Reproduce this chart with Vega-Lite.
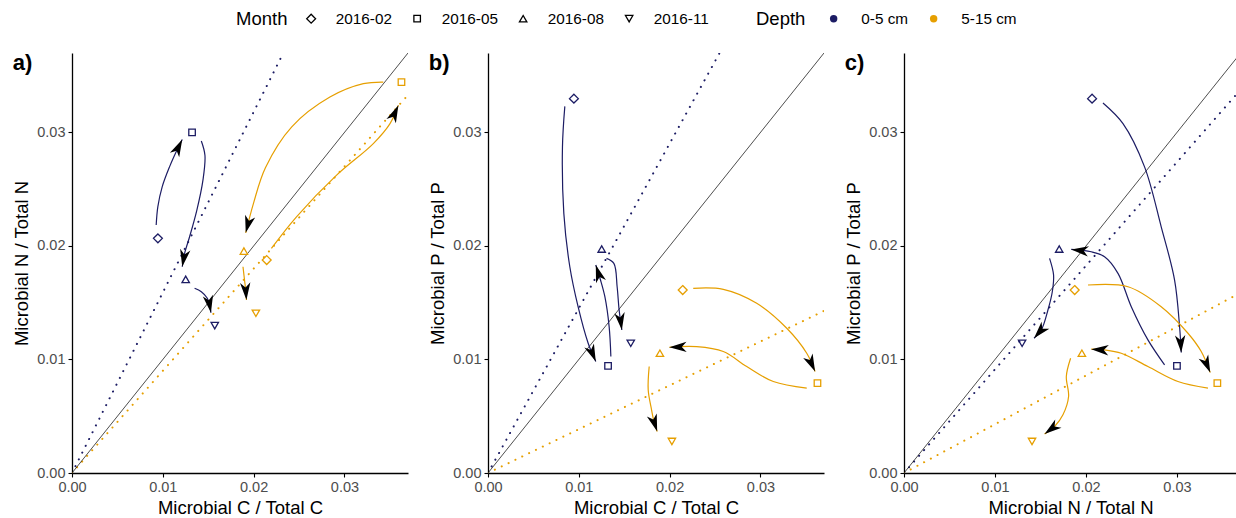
{
  "$schema": "https://vega.github.io/schema/vega-lite/v6.json",
  "padding": {"left": 12, "top": 11, "right": 0, "bottom": 2},
  "spacing": 20,
  "datasets": {
    "pts": [
      {"d": "0-5 cm", "m": "2016-02", "C": 0.00946, "N": 0.02067, "P": 0.03298},
      {"d": "0-5 cm", "m": "2016-05", "C": 0.01322, "N": 0.0300, "P": 0.00944},
      {"d": "0-5 cm", "m": "2016-08", "C": 0.01252, "N": 0.01706, "P": 0.01973},
      {"d": "0-5 cm", "m": "2016-11", "C": 0.01572, "N": 0.01298, "P": 0.01143},
      {"d": "5-15 cm", "m": "2016-02", "C": 0.02144, "N": 0.01876, "P": 0.01612},
      {"d": "5-15 cm", "m": "2016-05", "C": 0.03628, "N": 0.03444, "P": 0.00792},
      {"d": "5-15 cm", "m": "2016-08", "C": 0.01893, "N": 0.01955, "P": 0.01055},
      {"d": "5-15 cm", "m": "2016-11", "C": 0.02025, "N": 0.01407, "P": 0.00278}
    ],
    "refs": [
      {"p": "a", "d": "0-5 cm", "x0": 0, "y0": 0, "xe": 0.02327, "ye": 0.037},
      {"p": "a", "d": "5-15 cm", "x0": 0, "y0": 0, "xe": 0.037, "ye": 0.0333},
      {"p": "a", "d": "1:1", "x0": 0, "y0": 0, "xe": 0.037, "ye": 0.037},
      {"p": "b", "d": "0-5 cm", "x0": 0, "y0": 0, "xe": 0.0255, "ye": 0.037},
      {"p": "b", "d": "5-15 cm", "x0": 0, "y0": 0, "xe": 0.037, "ye": 0.01428},
      {"p": "b", "d": "1:1", "x0": 0, "y0": 0, "xe": 0.037, "ye": 0.037},
      {"p": "c", "d": "0-5 cm", "x0": 0, "y0": 0, "xe": 0.037, "ye": 0.03378},
      {"p": "c", "d": "5-15 cm", "x0": 0, "y0": 0, "xe": 0.037, "ye": 0.01589},
      {"p": "c", "d": "1:1", "x0": 0, "y0": 0, "xe": 0.037, "ye": 0.037}
    ],
    "arrows": [
      {"p": "a", "d": "0-5 cm", "id": "a1", "o": 1, "x": 0.00927, "y": 0.02184},
      {"p": "a", "d": "0-5 cm", "id": "a1", "o": 2, "x": 0.00945, "y": 0.02345},
      {"p": "a", "d": "0-5 cm", "id": "a1", "o": 3, "x": 0.00993, "y": 0.02521},
      {"p": "a", "d": "0-5 cm", "id": "a1", "o": 4, "x": 0.01074, "y": 0.02697},
      {"p": "a", "d": "0-5 cm", "id": "a1", "o": 5, "x": 0.01155, "y": 0.02843},
      {"p": "a", "d": "0-5 cm", "id": "a1", "o": 6, "x": 0.01214, "y": 0.02938},
      {"p": "a", "d": "0-5 cm", "id": "a2", "o": 1, "x": 0.01424, "y": 0.02925},
      {"p": "a", "d": "0-5 cm", "id": "a2", "o": 2, "x": 0.01464, "y": 0.02799},
      {"p": "a", "d": "0-5 cm", "id": "a2", "o": 3, "x": 0.01442, "y": 0.0258},
      {"p": "a", "d": "0-5 cm", "id": "a2", "o": 4, "x": 0.01375, "y": 0.02316},
      {"p": "a", "d": "0-5 cm", "id": "a2", "o": 5, "x": 0.01295, "y": 0.02081},
      {"p": "a", "d": "0-5 cm", "id": "a2", "o": 6, "x": 0.0124, "y": 0.01935},
      {"p": "a", "d": "0-5 cm", "id": "a2", "o": 7, "x": 0.01214, "y": 0.01817},
      {"p": "a", "d": "0-5 cm", "id": "a3", "o": 1, "x": 0.0135, "y": 0.01627},
      {"p": "a", "d": "0-5 cm", "id": "a3", "o": 2, "x": 0.01424, "y": 0.01597},
      {"p": "a", "d": "0-5 cm", "id": "a3", "o": 3, "x": 0.0149, "y": 0.01539},
      {"p": "a", "d": "0-5 cm", "id": "a3", "o": 4, "x": 0.01515, "y": 0.0148},
      {"p": "a", "d": "0-5 cm", "id": "a3", "o": 5, "x": 0.0153, "y": 0.01412},
      {"p": "a", "d": "5-15 cm", "id": "a4", "o": 1, "x": 0.02196, "y": 0.01979},
      {"p": "a", "d": "5-15 cm", "id": "a4", "o": 2, "x": 0.02472, "y": 0.02257},
      {"p": "a", "d": "5-15 cm", "id": "a4", "o": 3, "x": 0.02914, "y": 0.02624},
      {"p": "a", "d": "5-15 cm", "id": "a4", "o": 4, "x": 0.03318, "y": 0.02902},
      {"p": "a", "d": "5-15 cm", "id": "a4", "o": 5, "x": 0.03502, "y": 0.03078},
      {"p": "a", "d": "5-15 cm", "id": "a4", "o": 6, "x": 0.03594, "y": 0.03239},
      {"p": "a", "d": "5-15 cm", "id": "a5", "o": 1, "x": 0.03428, "y": 0.03444},
      {"p": "a", "d": "5-15 cm", "id": "a5", "o": 2, "x": 0.03208, "y": 0.0343},
      {"p": "a", "d": "5-15 cm", "id": "a5", "o": 3, "x": 0.0284, "y": 0.03312},
      {"p": "a", "d": "5-15 cm", "id": "a5", "o": 4, "x": 0.0242, "y": 0.0305},
      {"p": "a", "d": "5-15 cm", "id": "a5", "o": 5, "x": 0.0213, "y": 0.0269},
      {"p": "a", "d": "5-15 cm", "id": "a5", "o": 6, "x": 0.02, "y": 0.0238},
      {"p": "a", "d": "5-15 cm", "id": "a5", "o": 7, "x": 0.01913, "y": 0.02116},
      {"p": "a", "d": "5-15 cm", "id": "a6", "o": 1, "x": 0.01883, "y": 0.01817},
      {"p": "a", "d": "5-15 cm", "id": "a6", "o": 2, "x": 0.01902, "y": 0.01685},
      {"p": "a", "d": "5-15 cm", "id": "a6", "o": 3, "x": 0.01913, "y": 0.01612},
      {"p": "a", "d": "5-15 cm", "id": "a6", "o": 4, "x": 0.01921, "y": 0.01524},
      {"p": "b", "d": "0-5 cm", "id": "b1", "o": 1, "x": 0.00846, "y": 0.0323},
      {"p": "b", "d": "0-5 cm", "id": "b1", "o": 2, "x": 0.0082, "y": 0.02873},
      {"p": "b", "d": "0-5 cm", "id": "b1", "o": 3, "x": 0.00835, "y": 0.02287},
      {"p": "b", "d": "0-5 cm", "id": "b1", "o": 4, "x": 0.00901, "y": 0.01817},
      {"p": "b", "d": "0-5 cm", "id": "b1", "o": 5, "x": 0.00992, "y": 0.01465},
      {"p": "b", "d": "0-5 cm", "id": "b1", "o": 6, "x": 0.01103, "y": 0.01143},
      {"p": "b", "d": "0-5 cm", "id": "b1", "o": 7, "x": 0.01187, "y": 0.00982},
      {"p": "b", "d": "0-5 cm", "id": "b2", "o": 1, "x": 0.01353, "y": 0.01026},
      {"p": "b", "d": "0-5 cm", "id": "b2", "o": 2, "x": 0.01334, "y": 0.01289},
      {"p": "b", "d": "0-5 cm", "id": "b2", "o": 3, "x": 0.01287, "y": 0.01553},
      {"p": "b", "d": "0-5 cm", "id": "b2", "o": 4, "x": 0.01239, "y": 0.017},
      {"p": "b", "d": "0-5 cm", "id": "b2", "o": 5, "x": 0.01187, "y": 0.01832},
      {"p": "b", "d": "0-5 cm", "id": "b3", "o": 1, "x": 0.01305, "y": 0.01891},
      {"p": "b", "d": "0-5 cm", "id": "b3", "o": 2, "x": 0.01386, "y": 0.01847},
      {"p": "b", "d": "0-5 cm", "id": "b3", "o": 3, "x": 0.01422, "y": 0.01641},
      {"p": "b", "d": "0-5 cm", "id": "b3", "o": 4, "x": 0.01444, "y": 0.01436},
      {"p": "b", "d": "0-5 cm", "id": "b3", "o": 5, "x": 0.01474, "y": 0.0126},
      {"p": "b", "d": "5-15 cm", "id": "b4", "o": 1, "x": 0.0226, "y": 0.01627},
      {"p": "b", "d": "5-15 cm", "id": "b4", "o": 2, "x": 0.02591, "y": 0.01618},
      {"p": "b", "d": "5-15 cm", "id": "b4", "o": 3, "x": 0.02959, "y": 0.01495},
      {"p": "b", "d": "5-15 cm", "id": "b4", "o": 4, "x": 0.0329, "y": 0.01275},
      {"p": "b", "d": "5-15 cm", "id": "b4", "o": 5, "x": 0.0351, "y": 0.01055},
      {"p": "b", "d": "5-15 cm", "id": "b4", "o": 6, "x": 0.03602, "y": 0.00894},
      {"p": "b", "d": "5-15 cm", "id": "b5", "o": 1, "x": 0.0351, "y": 0.00748},
      {"p": "b", "d": "5-15 cm", "id": "b5", "o": 2, "x": 0.03142, "y": 0.00806},
      {"p": "b", "d": "5-15 cm", "id": "b5", "o": 3, "x": 0.02849, "y": 0.00938},
      {"p": "b", "d": "5-15 cm", "id": "b5", "o": 4, "x": 0.02591, "y": 0.0107},
      {"p": "b", "d": "5-15 cm", "id": "b5", "o": 5, "x": 0.02298, "y": 0.01113},
      {"p": "b", "d": "5-15 cm", "id": "b5", "o": 6, "x": 0.01996, "y": 0.01108},
      {"p": "b", "d": "5-15 cm", "id": "b6", "o": 1, "x": 0.01775, "y": 0.00938},
      {"p": "b", "d": "5-15 cm", "id": "b6", "o": 2, "x": 0.01764, "y": 0.00733},
      {"p": "b", "d": "5-15 cm", "id": "b6", "o": 3, "x": 0.01801, "y": 0.00557},
      {"p": "b", "d": "5-15 cm", "id": "b6", "o": 4, "x": 0.01827, "y": 0.00454},
      {"p": "b", "d": "5-15 cm", "id": "b6", "o": 5, "x": 0.01863, "y": 0.00366},
      {"p": "c", "d": "0-5 cm", "id": "c1", "o": 1, "x": 0.02187, "y": 0.0326},
      {"p": "c", "d": "0-5 cm", "id": "c1", "o": 2, "x": 0.02407, "y": 0.03078},
      {"p": "c", "d": "0-5 cm", "id": "c1", "o": 3, "x": 0.02644, "y": 0.02697},
      {"p": "c", "d": "0-5 cm", "id": "c1", "o": 4, "x": 0.02827, "y": 0.02169},
      {"p": "c", "d": "0-5 cm", "id": "c1", "o": 5, "x": 0.02974, "y": 0.017},
      {"p": "c", "d": "0-5 cm", "id": "c1", "o": 6, "x": 0.03029, "y": 0.01289},
      {"p": "c", "d": "0-5 cm", "id": "c1", "o": 7, "x": 0.03047, "y": 0.01061},
      {"p": "c", "d": "0-5 cm", "id": "c2", "o": 1, "x": 0.02864, "y": 0.00953},
      {"p": "c", "d": "0-5 cm", "id": "c2", "o": 2, "x": 0.02681, "y": 0.01173},
      {"p": "c", "d": "0-5 cm", "id": "c2", "o": 3, "x": 0.02498, "y": 0.01465},
      {"p": "c", "d": "0-5 cm", "id": "c2", "o": 4, "x": 0.02352, "y": 0.01759},
      {"p": "c", "d": "0-5 cm", "id": "c2", "o": 5, "x": 0.02204, "y": 0.01905},
      {"p": "c", "d": "0-5 cm", "id": "c2", "o": 6, "x": 0.02058, "y": 0.01949},
      {"p": "c", "d": "0-5 cm", "id": "c2", "o": 7, "x": 0.01838, "y": 0.0197},
      {"p": "c", "d": "0-5 cm", "id": "c3", "o": 1, "x": 0.016, "y": 0.01891},
      {"p": "c", "d": "0-5 cm", "id": "c3", "o": 2, "x": 0.01644, "y": 0.01744},
      {"p": "c", "d": "0-5 cm", "id": "c3", "o": 3, "x": 0.0163, "y": 0.01597},
      {"p": "c", "d": "0-5 cm", "id": "c3", "o": 4, "x": 0.01582, "y": 0.01436},
      {"p": "c", "d": "0-5 cm", "id": "c3", "o": 5, "x": 0.01509, "y": 0.0126},
      {"p": "c", "d": "0-5 cm", "id": "c3", "o": 6, "x": 0.01429, "y": 0.01187},
      {"p": "c", "d": "5-15 cm", "id": "c4", "o": 1, "x": 0.02022, "y": 0.01656},
      {"p": "c", "d": "5-15 cm", "id": "c4", "o": 2, "x": 0.02462, "y": 0.01641},
      {"p": "c", "d": "5-15 cm", "id": "c4", "o": 3, "x": 0.02827, "y": 0.01465},
      {"p": "c", "d": "5-15 cm", "id": "c4", "o": 4, "x": 0.03121, "y": 0.01231},
      {"p": "c", "d": "5-15 cm", "id": "c4", "o": 5, "x": 0.03267, "y": 0.0107},
      {"p": "c", "d": "5-15 cm", "id": "c4", "o": 6, "x": 0.03366, "y": 0.00885},
      {"p": "c", "d": "5-15 cm", "id": "c5", "o": 1, "x": 0.03341, "y": 0.00748},
      {"p": "c", "d": "5-15 cm", "id": "c5", "o": 2, "x": 0.03011, "y": 0.00806},
      {"p": "c", "d": "5-15 cm", "id": "c5", "o": 3, "x": 0.02681, "y": 0.00938},
      {"p": "c", "d": "5-15 cm", "id": "c5", "o": 4, "x": 0.02388, "y": 0.01055},
      {"p": "c", "d": "5-15 cm", "id": "c5", "o": 5, "x": 0.02204, "y": 0.01084},
      {"p": "c", "d": "5-15 cm", "id": "c5", "o": 6, "x": 0.02058, "y": 0.01091},
      {"p": "c", "d": "5-15 cm", "id": "c6", "o": 1, "x": 0.01831, "y": 0.01011},
      {"p": "c", "d": "5-15 cm", "id": "c6", "o": 2, "x": 0.01784, "y": 0.0085},
      {"p": "c", "d": "5-15 cm", "id": "c6", "o": 3, "x": 0.01809, "y": 0.00674},
      {"p": "c", "d": "5-15 cm", "id": "c6", "o": 4, "x": 0.01747, "y": 0.00513},
      {"p": "c", "d": "5-15 cm", "id": "c6", "o": 5, "x": 0.01655, "y": 0.0041},
      {"p": "c", "d": "5-15 cm", "id": "c6", "o": 6, "x": 0.01545, "y": 0.00343}
    ]
  },
  "hconcat": [
    {
      "width": 336, "height": 420,
      "title": {"text": "a)", "anchor": "start", "frame": "bounds", "fontSize": 22, "fontWeight": "bold", "color": "black", "offset": -22},
      "layer": [
        {
          "data": {"name": "pts"},
          "mark": {"type": "point", "filled": true, "opacity": 0},
          "encoding": {
            "x": {"field": "C", "type": "quantitative"},
            "y": {"field": "N", "type": "quantitative"},
            "color": {
              "field": "d", "type": "nominal",
              "scale": {"domain": ["0-5 cm", "5-15 cm"], "range": ["#1c1c64", "#E69F00"]},
              "legend": {
                "title": "Depth", "orient": "none", "legendX": 684, "legendY": -42, "direction": "horizontal", "titleOrient": "left",
                "titleFontSize": 18.5, "titleFontWeight": "normal", "titleColor": "black", "titlePadding": 20,
                "labelFontSize": 15.3, "labelColor": "black", "labelOffset": 20, "columnPadding": 17,
                "symbolType": "circle", "symbolSize": 55, "symbolOpacity": 1, "symbolStrokeWidth": 0
              }
            }
          }
        },
        {
          "data": {"name": "refs"},
          "transform": [{"filter": "datum.p == 'a' && datum.d != '1:1'"}],
          "mark": {"type": "rule", "strokeDash": [0.1, 7.5], "strokeCap": "round", "strokeWidth": 2, "clip": true},
          "encoding": {
            "x": {"field": "x0", "type": "quantitative", "scale": {"domain": [0, 0.037], "nice": false}, "axis": {"values": [0, 0.01, 0.02, 0.03], "format": ".2f", "title": "Microbial C / Total C"}},
            "y": {"field": "y0", "type": "quantitative", "scale": {"domain": [0, 0.037], "nice": false}, "axis": {"values": [0, 0.01, 0.02, 0.03], "format": ".2f", "title": "Microbial N / Total N"}},
            "x2": {"field": "xe"},
            "y2": {"field": "ye"},
            "color": {"field": "d", "type": "nominal"}
          }
        },
        {
          "data": {"name": "refs"},
          "transform": [{"filter": "datum.p == 'a' && datum.d == '1:1'"}],
          "mark": {"type": "rule", "color": "black", "strokeWidth": 0.7, "clip": true},
          "encoding": {
            "x": {"field": "x0", "type": "quantitative"},
            "y": {"field": "y0", "type": "quantitative"},
            "x2": {"field": "xe"},
            "y2": {"field": "ye"}
          }
        },
        {
          "data": {"name": "arrows"},
          "transform": [{"filter": "datum.p == 'a'"}],
          "mark": {"type": "line", "interpolate": "catmull-rom", "strokeWidth": 1.2, "clip": true},
          "encoding": {
            "x": {"field": "x", "type": "quantitative"},
            "y": {"field": "y", "type": "quantitative"},
            "color": {"field": "d", "type": "nominal"},
            "detail": {"field": "id", "type": "nominal"},
            "order": {"field": "o", "type": "quantitative"}
          }
        },
        {
          "data": {"name": "arrows"},
          "transform": [
            {"filter": "datum.p == 'a'"},
            {"window": [{"op": "lag", "field": "x", "as": "lx"}, {"op": "lag", "field": "y", "as": "ly"}], "groupby": ["id"], "sort": [{"field": "o", "order": "ascending"}]},
            {"joinaggregate": [{"op": "max", "field": "o", "as": "mo"}], "groupby": ["id"]},
            {"filter": "datum.o == datum.mo"},
            {"calculate": "atan2((datum.x - datum.lx) * 9081, (datum.y - datum.ly) * 11351) * 180 / PI", "as": "ang"}
          ],
          "mark": {"type": "point", "shape": "M0,0 L0.6,2 L0,1.45 L-0.6,2 Z", "filled": true, "color": "black", "opacity": 1, "size": 300, "strokeWidth": 0},
          "encoding": {
            "x": {"field": "x", "type": "quantitative"},
            "y": {"field": "y", "type": "quantitative"},
            "angle": {"field": "ang", "type": "quantitative", "scale": null}
          }
        },
        {
          "data": {"name": "pts"},
          "mark": {"type": "point", "filled": false, "size": 55, "strokeWidth": 1.3, "opacity": 1},
          "encoding": {
            "x": {"field": "C", "type": "quantitative"},
            "y": {"field": "N", "type": "quantitative"},
            "color": {"field": "d", "type": "nominal"},
            "shape": {
              "field": "m", "type": "nominal",
              "scale": {"domain": ["2016-02", "2016-05", "2016-08", "2016-11"], "range": ["M0,-1.2 L1.2,0 L0,1.2 L-1.2,0 Z", "M-0.88,-0.88 L0.88,-0.88 L0.88,0.88 L-0.88,0.88 Z", "triangle-up", "triangle-down"]},
              "legend": {
                "title": "Month", "orient": "none", "legendX": 164, "legendY": -42, "direction": "horizontal", "titleOrient": "left",
                "titleFontSize": 18.5, "titleFontWeight": "normal", "titleColor": "black", "titlePadding": 15.5,
                "labelFontSize": 15.3, "labelColor": "black", "labelOffset": 17, "columnPadding": 17,
                "symbolSize": 55, "symbolStrokeColor": "black", "symbolFillColor": "transparent", "symbolStrokeWidth": 1.3
              }
            }
          }
        }
      ]
    },
    {
      "width": 336, "height": 420,
      "title": {"text": "b)", "anchor": "start", "frame": "bounds", "fontSize": 22, "fontWeight": "bold", "color": "black", "offset": -22},
      "layer": [
        {
          "data": {"name": "refs"},
          "transform": [{"filter": "datum.p == 'b' && datum.d != '1:1'"}],
          "mark": {"type": "rule", "strokeDash": [0.1, 7.5], "strokeCap": "round", "strokeWidth": 2, "clip": true},
          "encoding": {
            "x": {"field": "x0", "type": "quantitative", "scale": {"domain": [0, 0.037], "nice": false}, "axis": {"values": [0, 0.01, 0.02, 0.03], "format": ".2f", "title": "Microbial C / Total C"}},
            "y": {"field": "y0", "type": "quantitative", "scale": {"domain": [0, 0.037], "nice": false}, "axis": {"values": [0, 0.01, 0.02, 0.03], "format": ".2f", "title": "Microbial P / Total P"}},
            "x2": {"field": "xe"},
            "y2": {"field": "ye"},
            "color": {"field": "d", "type": "nominal"}
          }
        },
        {
          "data": {"name": "refs"},
          "transform": [{"filter": "datum.p == 'b' && datum.d == '1:1'"}],
          "mark": {"type": "rule", "color": "black", "strokeWidth": 0.7, "clip": true},
          "encoding": {
            "x": {"field": "x0", "type": "quantitative"},
            "y": {"field": "y0", "type": "quantitative"},
            "x2": {"field": "xe"},
            "y2": {"field": "ye"}
          }
        },
        {
          "data": {"name": "arrows"},
          "transform": [{"filter": "datum.p == 'b'"}],
          "mark": {"type": "line", "interpolate": "catmull-rom", "strokeWidth": 1.2, "clip": true},
          "encoding": {
            "x": {"field": "x", "type": "quantitative"},
            "y": {"field": "y", "type": "quantitative"},
            "color": {"field": "d", "type": "nominal"},
            "detail": {"field": "id", "type": "nominal"},
            "order": {"field": "o", "type": "quantitative"}
          }
        },
        {
          "data": {"name": "arrows"},
          "transform": [
            {"filter": "datum.p == 'b'"},
            {"window": [{"op": "lag", "field": "x", "as": "lx"}, {"op": "lag", "field": "y", "as": "ly"}], "groupby": ["id"], "sort": [{"field": "o", "order": "ascending"}]},
            {"joinaggregate": [{"op": "max", "field": "o", "as": "mo"}], "groupby": ["id"]},
            {"filter": "datum.o == datum.mo"},
            {"calculate": "atan2((datum.x - datum.lx) * 9081, (datum.y - datum.ly) * 11351) * 180 / PI", "as": "ang"}
          ],
          "mark": {"type": "point", "shape": "M0,0 L0.6,2 L0,1.45 L-0.6,2 Z", "filled": true, "color": "black", "opacity": 1, "size": 300, "strokeWidth": 0},
          "encoding": {
            "x": {"field": "x", "type": "quantitative"},
            "y": {"field": "y", "type": "quantitative"},
            "angle": {"field": "ang", "type": "quantitative", "scale": null}
          }
        },
        {
          "data": {"name": "pts"},
          "mark": {"type": "point", "filled": false, "size": 55, "strokeWidth": 1.3, "opacity": 1},
          "encoding": {
            "x": {"field": "C", "type": "quantitative"},
            "y": {"field": "P", "type": "quantitative"},
            "color": {"field": "d", "type": "nominal"},
            "shape": {"field": "m", "type": "nominal", "legend": null}
          }
        }
      ]
    },
    {
      "width": 333, "height": 420,
      "title": {"text": "c)", "anchor": "start", "frame": "bounds", "fontSize": 22, "fontWeight": "bold", "color": "black", "offset": -22},
      "layer": [
        {
          "data": {"name": "refs"},
          "transform": [{"filter": "datum.p == 'c' && datum.d != '1:1'"}],
          "mark": {"type": "rule", "strokeDash": [0.1, 7.5], "strokeCap": "round", "strokeWidth": 2, "clip": true},
          "encoding": {
            "x": {"field": "x0", "type": "quantitative", "scale": {"domain": [0, 0.0366], "nice": false}, "axis": {"values": [0, 0.01, 0.02, 0.03], "format": ".2f", "title": "Microbial N / Total N"}},
            "y": {"field": "y0", "type": "quantitative", "scale": {"domain": [0, 0.037], "nice": false}, "axis": {"values": [0, 0.01, 0.02, 0.03], "format": ".2f", "title": "Microbial P / Total P"}},
            "x2": {"field": "xe"},
            "y2": {"field": "ye"},
            "color": {"field": "d", "type": "nominal"}
          }
        },
        {
          "data": {"name": "refs"},
          "transform": [{"filter": "datum.p == 'c' && datum.d == '1:1'"}],
          "mark": {"type": "rule", "color": "black", "strokeWidth": 0.7, "clip": true},
          "encoding": {
            "x": {"field": "x0", "type": "quantitative"},
            "y": {"field": "y0", "type": "quantitative"},
            "x2": {"field": "xe"},
            "y2": {"field": "ye"}
          }
        },
        {
          "data": {"name": "arrows"},
          "transform": [{"filter": "datum.p == 'c'"}],
          "mark": {"type": "line", "interpolate": "catmull-rom", "strokeWidth": 1.2, "clip": true},
          "encoding": {
            "x": {"field": "x", "type": "quantitative"},
            "y": {"field": "y", "type": "quantitative"},
            "color": {"field": "d", "type": "nominal"},
            "detail": {"field": "id", "type": "nominal"},
            "order": {"field": "o", "type": "quantitative"}
          }
        },
        {
          "data": {"name": "arrows"},
          "transform": [
            {"filter": "datum.p == 'c'"},
            {"window": [{"op": "lag", "field": "x", "as": "lx"}, {"op": "lag", "field": "y", "as": "ly"}], "groupby": ["id"], "sort": [{"field": "o", "order": "ascending"}]},
            {"joinaggregate": [{"op": "max", "field": "o", "as": "mo"}], "groupby": ["id"]},
            {"filter": "datum.o == datum.mo"},
            {"calculate": "atan2((datum.x - datum.lx) * 9098, (datum.y - datum.ly) * 11351) * 180 / PI", "as": "ang"}
          ],
          "mark": {"type": "point", "shape": "M0,0 L0.6,2 L0,1.45 L-0.6,2 Z", "filled": true, "color": "black", "opacity": 1, "size": 300, "strokeWidth": 0},
          "encoding": {
            "x": {"field": "x", "type": "quantitative"},
            "y": {"field": "y", "type": "quantitative"},
            "angle": {"field": "ang", "type": "quantitative", "scale": null}
          }
        },
        {
          "data": {"name": "pts"},
          "mark": {"type": "point", "filled": false, "size": 55, "strokeWidth": 1.3, "opacity": 1},
          "encoding": {
            "x": {"field": "N", "type": "quantitative"},
            "y": {"field": "P", "type": "quantitative"},
            "color": {"field": "d", "type": "nominal"},
            "shape": {"field": "m", "type": "nominal", "legend": null}
          }
        }
      ]
    }
  ],
  "config": {
    "font": "Liberation Sans",
    "view": {"stroke": null},
    "axis": {
      "grid": false, "domainColor": "black", "domainWidth": 1.3, "tickColor": "black", "tickWidth": 1.1, "tickSize": 4,
      "labelColor": "#4d4d4d", "labelFontSize": 14.5, "labelPadding": 3, "labelFlush": false,
      "titleFontSize": 18.5, "titleFontWeight": "normal", "titleColor": "black", "titlePadding": 5
    }
  }
}
